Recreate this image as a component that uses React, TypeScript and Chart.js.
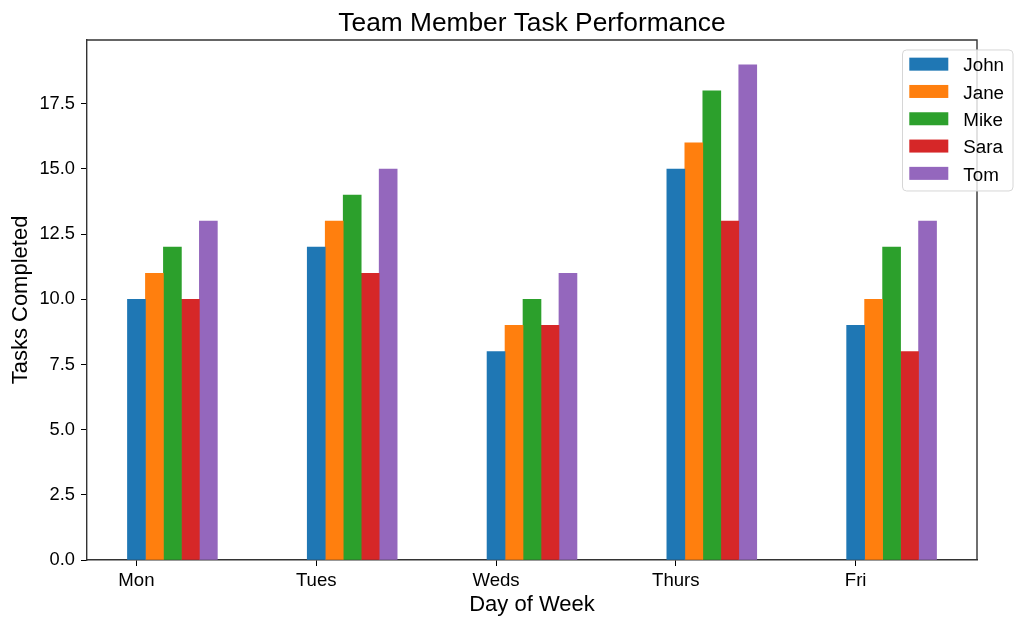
import React, { useEffect, useRef } from "react";
import { Chart, registerables } from "chart.js";

Chart.register(...registerables);

// ---- data ----
const days = ["Mon", "Tues", "Weds", "Thurs", "Fri"];
const members = ["John", "Jane", "Mike", "Sara", "Tom"];
const john = [10, 12, 8, 15, 9];
const jane = [11, 13, 9, 16, 10];
const mike = [12, 14, 10, 18, 12];
const sara = [10, 11, 9, 13, 8];
const tom = [13, 15, 11, 19, 13];
const seriesValues = [john, jane, mike, sara, tom];
const yTickValues = [0, 2.5, 5, 7.5, 10, 12.5, 15, 17.5];

const colors = ["#1f77b4", "#ff7f0e", "#2ca02c", "#d62728", "#9467bd"];
const FONT = "'Liberation Sans', Arial, Helvetica, sans-serif";
const barWidth = 0.1;

// matplotlib-like auto limits (5% margins, bottom sticky at 0)
const xLo = -barWidth / 2;
const xHi = days.length - 1 + (members.length - 1) * barWidth + barWidth / 2;
const xMargin = (xHi - xLo) * 0.05;
const yDataMax = Math.max(...seriesValues.flat());
const yMax = yDataMax * 1.05;

const framePlugin = {
  id: "frame",
  afterDatasetsDraw(chart: any) {
    const { ctx, chartArea: a } = chart;
    ctx.save();
    ctx.strokeStyle = "#333";
    ctx.lineWidth = 1.4;
    ctx.beginPath();
    ctx.moveTo(a.left, a.top);
    ctx.lineTo(a.right, a.top);
    ctx.lineTo(a.right, a.bottom);
    ctx.stroke();
    ctx.restore();
  },
};

const legendPlugin = {
  id: "mplLegend",
  afterDraw(chart: any) {
    const { ctx, chartArea: a } = chart;
    const left = a.right - 75;
    const top = a.top + 9.5;
    const w = 110.5;
    const rowH = 27.3;
    const h = 141;
    ctx.save();
    ctx.beginPath();
    ctx.roundRect(left + 0.5, top + 0.5, w, h, 4);
    ctx.fillStyle = "rgba(255,255,255,0.8)";
    ctx.fill();
    ctx.strokeStyle = "#d6d6d6";
    ctx.lineWidth = 1;
    ctx.stroke();
    ctx.font = `18.8px ${FONT}`;
    ctx.textBaseline = "alphabetic";
    ctx.textAlign = "left";
    chart.data.datasets.forEach((ds: any, i: number) => {
      const cy = top + 14.7 + i * rowH;
      ctx.fillStyle = ds.backgroundColor;
      ctx.fillRect(left + 7.3, cy - 6.5, 39, 13);
      ctx.fillStyle = "#000";
      ctx.fillText(ds.label, left + 61.3, cy + 7.2);
    });
    ctx.restore();
  },
};

export default function App() {
  const ref = useRef<HTMLCanvasElement>(null);

  useEffect(() => {
    const datasets = members.map((name, j) => ({
      label: name,
      data: seriesValues[j].map((v, i) => ({ x: i + j * barWidth, y: v })),
      backgroundColor: colors[j],
      borderWidth: 0,
      barPercentage: 1,
      categoryPercentage: 1,
      grouped: false,
    }));

    const chart = new Chart(ref.current!, {
      type: "bar",
      data: { datasets },
      options: {
        animation: false,
        responsive: false,
        devicePixelRatio: 1,
        layout: { padding: { left: 0, right: 47, top: 0, bottom: 0 } },
        plugins: {
          legend: { display: false },
          tooltip: { enabled: false },
          title: {
            display: true,
            text: "Team Member Task Performance",
            color: "#000",
            fullSize: false,
            font: { family: FONT, size: 26.3, weight: "normal" },
            padding: { top: 8.3, bottom: 0.1 },
          },
        },
        scales: {
          x: {
            type: "linear",
            position: "bottom",
            min: xLo - xMargin,
            max: xHi + xMargin,
            offset: false,
            afterFit: (s: any) => {
              s.height = 68;
            },
            afterBuildTicks: (s: any) => {
              s.ticks = days.map((_, i) => ({ value: i }));
            },
            ticks: {
              autoSkip: false,
              maxRotation: 0,
              color: "#000",
              padding: 3.5,
              font: { family: FONT, size: 18.6 },
              callback: (v: any) => days[Number(v)] ?? "",
            },
            grid: {
              offset: false,
              drawOnChartArea: false,
              drawTicks: true,
              tickLength: 6,
              tickColor: "#000",
              tickWidth: 1,
            },
            border: { display: true, color: "#333", width: 1.4 },
            title: {
              display: true,
              text: "Day of Week",
              color: "#000",
              font: { family: FONT, size: 22 },
              padding: { top: 0, bottom: 10 },
            },
          },
          y: {
            position: "left",
            min: 0,
            max: yMax,
            afterFit: (s: any) => {
              s.width = 87;
            },
            afterBuildTicks: (s: any) => {
              s.ticks = yTickValues.map((v) => ({ value: v }));
            },
            ticks: {
              color: "#000",
              padding: 6,
              font: { family: FONT, size: 18.3 },
              callback: (v: any) => Number(v).toFixed(1),
            },
            grid: {
              drawOnChartArea: false,
              drawTicks: true,
              tickLength: 6,
              tickColor: "#000",
              tickWidth: 1,
            },
            border: { display: true, color: "#333", width: 1.4 },
            title: {
              display: true,
              text: "Tasks Completed",
              color: "#000",
              font: { family: FONT, size: 22 },
              padding: { top: 7.5, bottom: 0 },
            },
          },
        },
      } as any,
      plugins: [framePlugin, legendPlugin],
    });
    return () => chart.destroy();
  }, []);

  return (
    <div style={{ position: "absolute", left: 0, top: 0, width: 1024, height: 628, background: "#fff" }}>
      <canvas ref={ref} width={1024} height={628} style={{ display: "block", width: 1024, height: 628 }} />
    </div>
  );
}
